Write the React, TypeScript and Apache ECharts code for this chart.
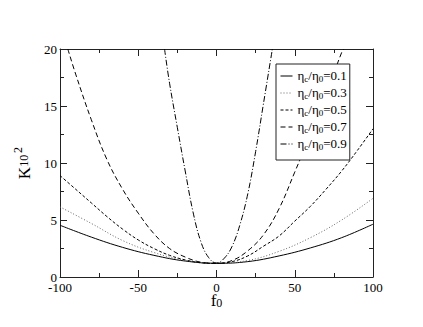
import React, { useEffect, useRef } from "react";
import * as echarts from "echarts";

const xTicks = [-100, -50, 0, 50, 100];
const yTicks = [0, 5, 10, 15, 20];
const ratioLabels = ["0.1", "0.3", "0.5", "0.7", "0.9"];

const f01: number[] = [-100, -80, -60, -40, -20, 0, 20, 40, 60, 80, 100];
const k01: number[] = [4.54, 3.5, 2.6, 1.9, 1.4, 1.2, 1.35, 1.85, 2.55, 3.45, 4.63];

const f03: number[] = [-100, -80, -60, -40, -20, 0, 20, 40, 60, 80, 100];
const k03: number[] = [6.15, 4.7, 3.2, 2.15, 1.45, 1.2, 1.45, 2.25, 3.45, 5.0, 6.9];

const f05: number[] = [-100, -90, -80, -70, -60, -50, -40, -30, -20, -10, 0, 10, 20, 30, 40, 50, 60, 70, 80, 90, 100];
const k05: number[] = [8.9, 7.7, 6.5, 5.3, 4.2, 3.25, 2.5, 1.9, 1.5, 1.25, 1.2, 1.35, 1.85, 2.7, 3.6, 4.9, 6.2, 7.7, 9.3, 11.1, 13.0];

const f07: number[] = [-95, -90, -80, -70, -60, -50, -40, -30, -20, -10, 0, 10, 20, 30, 40, 50, 60, 70, 80, 81.5];
const k07: number[] = [20, 17.8, 13.8, 10.3, 7.7, 5.6, 3.8, 2.5, 1.75, 1.3, 1.2, 1.45, 2.3, 3.7, 6.0, 9.2, 12.5, 16.0, 19.7, 20];

const f09: number[] = [-33.2, -30, -25, -20, -15, -10, -5, 0, 5, 10, 15, 20, 25, 30, 35.7];
const k09: number[] = [20, 17.0, 13.1, 9.3, 5.7, 3.1, 1.7, 1.22, 1.65, 2.7, 4.6, 7.3, 11.0, 15.2, 20];

const FONT = "Liberation Serif";

export default function App() {
  const ref = useRef<HTMLDivElement>(null);
  useEffect(() => {
    document.body.style.margin = "0";
    if (!ref.current) return;
    const chart = echarts.init(ref.current, undefined, { renderer: "svg" });
    const zip = (xs: number[], ys: number[]) => xs.map((x, i) => [x, ys[i]]);
    const curves = [
      { x: f01, y: k01, type: "solid" as any, color: "#000" },
      { x: f03, y: k03, type: [1, 2], color: "#666" },
      { x: f05, y: k05, type: [3, 2], color: "#000" },
      { x: f07, y: k07, type: [5, 3], color: "#000" },
      { x: f09, y: k09, type: [6, 2, 1, 2], color: "#000" },
    ];
    const names = ratioLabels.map((r) => "eta" + r);
    const axisCommon = {
      type: "value" as const,
      axisLine: { show: true, onZero: false, lineStyle: { color: "#222", width: 1 } },
      axisTick: { show: true, inside: true, length: 7, lineStyle: { color: "#222" } },
      minorTick: { show: true, splitNumber: 2, length: 4, lineStyle: { color: "#222" } },
      splitLine: { show: false },
      minorSplitLine: { show: false },
    };
    const tickLabel = {
      show: true,
      color: "#000",
      fontFamily: FONT,
      fontSize: 13,
      rich: { n: { fontFamily: FONT, fontSize: 13, color: "#000" } },
      formatter: (v: number) => `{n|${v}}`,
    };
    chart.setOption({
      animation: false,
      grid: { left: 49, right: 50, top: 49, bottom: 50, show: false },
      xAxis: [
        {
          ...axisCommon,
          min: xTicks[0],
          max: xTicks[xTicks.length - 1],
          interval: 50,
          position: "bottom",
          axisLabel: { ...tickLabel, margin: 4 },
          name: "{f|f}{s|0}",
          nameLocation: "middle",
          nameGap: 15,
          nameMoveOverlap: false,
          nameTextStyle: {
            rich: {
              f: { fontFamily: FONT, fontSize: 17, color: "#000", lineHeight: 17, verticalAlign: "top" },
              s: { fontFamily: FONT, fontSize: 12, color: "#000", lineHeight: 12, verticalAlign: "bottom", padding: [8, 0, 0, 0] },
            },
          },
        },
        {
          ...axisCommon,
          min: xTicks[0],
          max: xTicks[xTicks.length - 1],
          interval: 50,
          position: "top",
          axisLabel: { show: false },
        },
      ],
      yAxis: [
        {
          ...axisCommon,
          min: yTicks[0],
          max: yTicks[yTicks.length - 1],
          interval: 5,
          position: "left",
          axisLabel: { ...tickLabel, margin: 3 },
          name: "{k|K}{sub|10}{sup|2}",
          nameLocation: "middle",
          nameRotate: 90,
          nameGap: 30,
          nameMoveOverlap: false,
          nameTextStyle: {
            rich: {
              k: { fontFamily: FONT, fontSize: 17, color: "#000", lineHeight: 18, verticalAlign: "top", padding: [4, 0, 0, 0] },
              sub: { fontFamily: FONT, fontSize: 12, color: "#000", lineHeight: 12, verticalAlign: "bottom", padding: [10, 0, 0, 0] },
              sup: { fontFamily: FONT, fontSize: 12, color: "#000", lineHeight: 12, verticalAlign: "top", padding: [0, 0, 0, 2] },
            },
          },
        },
        {
          ...axisCommon,
          min: yTicks[0],
          max: yTicks[yTicks.length - 1],
          interval: 5,
          position: "right",
          axisLabel: { show: false },
        },
      ],
      legend: {
        orient: "vertical",
        left: 276,
        top: 64,
        padding: [4, 3, 9, 4],
        itemGap: 2,
        itemWidth: 12,
        itemHeight: 10,
        borderColor: "#222",
        borderWidth: 1,
        borderRadius: 0,
        backgroundColor: "#fff",
        itemStyle: { opacity: 0 },
        lineStyle: { width: 1 },
        data: names,
        formatter: (n: string) => {
          const r = n.replace("eta", "");
          return `{t|η}{s|c}{t|/η}{s|0}{t|=${r}}`;
        },
        textStyle: {
          fontFamily: FONT,
          fontSize: 13,
          color: "#000",
          rich: {
            t: { fontFamily: FONT, fontSize: 13, color: "#000", lineHeight: 14, verticalAlign: "top" },
            s: { fontFamily: FONT, fontSize: 9, color: "#000", lineHeight: 10, verticalAlign: "bottom", padding: [6, 0, 0, 0] },
          },
        },
      },
      series: curves.map((c, i) => ({
        name: names[i],
        type: "line",
        xAxisIndex: 0,
        yAxisIndex: 0,
        data: zip(c.x, c.y),
        smooth: 0.4,
        symbol: "none",
        showSymbol: false,
        clip: true,
        lineStyle: { color: c.color, width: 1, type: c.type },
        itemStyle: { color: c.color },
      })),
    });
    return () => chart.dispose();
  }, []);
  return <div ref={ref} style={{ width: 423, height: 327 }} />;
}
